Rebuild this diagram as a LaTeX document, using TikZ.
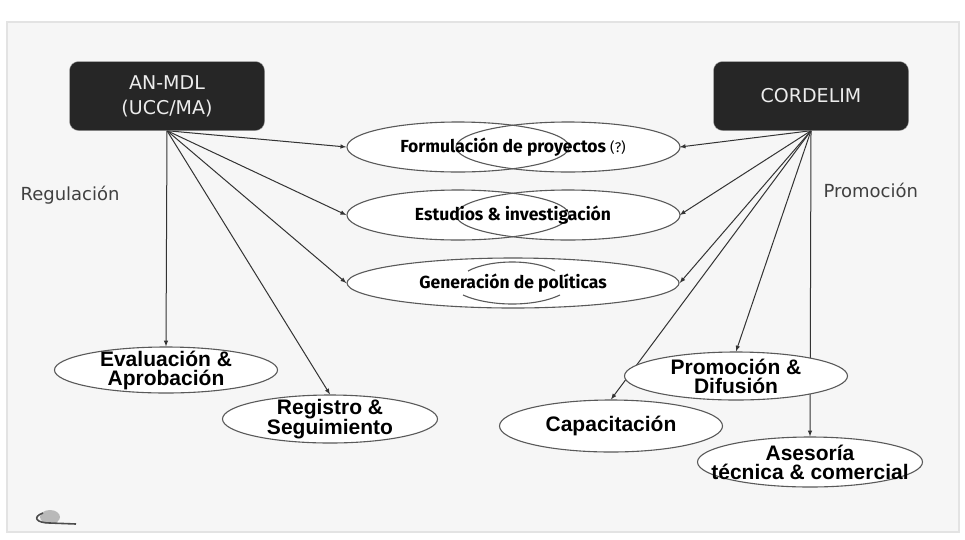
\documentclass[tikz,border=0pt]{standalone}
\usepackage{fontspec}
\newfontfamily\boxfont{DejaVu Sans}
\newfontfamily\midfont{Fira Sans}
\newfontfamily\lowfont{Liberation Sans}
\usetikzlibrary{arrows,shapes.geometric,backgrounds}

\tikzset{
  actor/.style={draw=gray!70, fill=black!85, rounded corners=9pt, minimum width=195pt,
    minimum height=69pt, inner sep=0pt, text=gray!15, align=center,
    font=\boxfont\fontsize{19}{25}\selectfont},
  task/.style={ellipse, draw=black!65, line width=1.1pt, fill=white, minimum width=223pt,
    minimum height=48pt, inner xsep=-30pt, inner ysep=-20pt, align=center,
    font=\lowfont\bfseries\fontsize{21}{19}\selectfont},
  midtask/.style={ellipse, minimum width=333pt, minimum height=50pt, inner sep=-30pt,
    font=\midfont\bfseries\fontsize{17.5}{20}\selectfont},
  lens/.style={draw=black!65, line width=1.1pt},
  conn/.style={-latex, draw=black!80, line width=1pt},
  side/.style={anchor=base west, text=black!75, font=\boxfont\fontsize{18}{20}\selectfont}
}

\begin{document}
\begin{tikzpicture}[x=1pt,y=-1pt]
\useasboundingbox (0,0) rectangle (965,539);
\begin{scope}[on background layer]
  \fill[white] (0,0) rectangle (965,539);
  \filldraw[fill=gray!7, draw=gray!22, line width=2pt] (7,22) rectangle (959,532);
\end{scope}

% dobles elipses del centro
\foreach \y in {147,215}{
  \fill[white] (458,\y) ellipse [x radius=111pt, y radius=25pt];
  \fill[white] (568,\y) ellipse [x radius=112pt, y radius=25pt];
  \draw[lens] (458,\y) ellipse [x radius=111pt, y radius=25pt];
  \draw[lens] (568,\y) ellipse [x radius=112pt, y radius=25pt];
}
\filldraw[lens, fill=white] (513,283) ellipse [x radius=166pt, y radius=25pt];
\draw[lens] (468,271) .. controls (490,259) and (535,259) .. (555,271);
\draw[lens] (463,295) .. controls (490,307) and (535,307) .. (560,295);

\node[actor] (anmdl) at (167,96) {AN-MDL\\(UCC/MA)};
\node[actor] (cordelim) at (811,96) {CORDELIM};

\node[midtask] (formul) at (513,147) {Formulación de proyectos {\mdseries\fontsize{14}{16}\selectfont(?)}};
\node[midtask] (estud) at (513,215) {Estudios \& investigación};
\node[midtask] (genera) at (513,283) {Generación de políticas};

\node[task, minimum height=46pt] (evalu) at (166,370) {Evaluación \&\\Aprobación};
\node[task, minimum width=215pt] (regis) at (330,419) {Registro \&\\Seguimiento};
\node[task, minimum height=52pt] (capac) at (611,426) {Capacitación};
\node[task] (promo) at (736,376) {Promoción \&\\Difusión};
\node[task, minimum width=225pt, minimum height=50pt] (asesor) at (810,462) {Asesoría\\técnica \& comercial};

\node[side] (regul) at (17,200) {Regulación};
\node[side] (promlab) at (820,197) {Promoción};

% conectores
\begin{scope}[on background layer]
  \foreach \t in {formul.west, estud.west, genera.west, evalu.north, regis.north}
    \draw[conn] (anmdl.south) -- (\t);
  \foreach \t in {formul.east, estud.east, genera.east, capac.north, promo.north, asesor.north}
    \draw[conn] (cordelim.south) -- (\t);
\end{scope}

% icono
\fill[gray!55] (50,517) ellipse [x radius=10pt, y radius=7pt];
\draw[black!70, line width=1.6pt] (43,513) .. controls (32,517) and (36,523) .. (50,523) -- (76,524);
\end{tikzpicture}
\end{document}
